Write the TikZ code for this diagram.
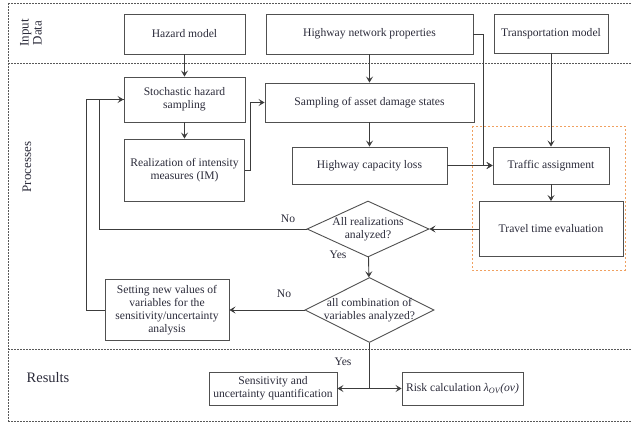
\documentclass[tikz,border=0pt]{standalone}
\usepackage{fontspec}
\setmainfont{Liberation Serif}
\usetikzlibrary{arrows.meta,shapes.geometric}
\definecolor{txt}{HTML}{2B2B3A}
\definecolor{ln}{HTML}{505050}
\definecolor{org}{HTML}{F0A060}
\begin{document}
\begin{tikzpicture}[x=1pt,y=-1pt,
 box/.style={draw=ln, line width=0.9pt, text=txt, align=center, font=\fontsize{11.6}{13}\selectfont, inner sep=1pt},
 dia/.style={diamond, draw=ln, line width=0.9pt, inner sep=0pt},
 diatext/.style={text=txt, align=center, font=\fontsize{11.6}{13}\selectfont, inner sep=0pt},
 conn/.style={draw=ln!75!black, line width=0.9pt, -{Stealth[length=6pt,width=7pt,inset=2.5pt]}},
 plainline/.style={draw=ln!75!black, line width=0.9pt},
 frameline/.style={draw=black!65, dash pattern=on 2pt off 1pt, line width=0.6pt},
 lbl/.style={text=txt, font=\fontsize{11.6}{13}\selectfont, inner sep=0pt},
 sec/.style={text=txt, align=center, inner sep=0pt}]

\useasboundingbox (0,0) rectangle (631,422);

% frame
\draw[frameline] (8,3) -- (631,3);
\draw[frameline] (8,63) -- (631,63);
\draw[frameline] (8,349) -- (631,349);
\draw[frameline] (8,421) -- (631,421);
\draw[frameline] (8,3) -- (8,421);

% section labels
\node[sec, rotate=90, font=\fontsize{13}{13}\selectfont] (lin) at (31,33) {Input\\Data};
\node[sec, rotate=90, font=\fontsize{13}{13}\selectfont] (lpr) at (27,167) {Processes};
\node[sec, font=\fontsize{14.5}{14.5}\selectfont] (lre) at (48,378) {Results};

% orange group
\draw[org, dash pattern=on 2pt off 2pt, line width=0.9pt] (472,126) rectangle (625,270);

% boxes
\node[box, minimum width=121pt, minimum height=40pt] (haz) at (184.5,34) {Hazard model};
\node[box, minimum width=207pt, minimum height=40pt] (hw) at (369.5,34) {Highway network properties};
\node[box, minimum width=114pt, minimum height=39pt] (tm) at (551,33.5) {Transportation model};
\node[box, minimum width=121pt, minimum height=45pt] (stoch) at (184.5,99.5) {Stochastic hazard\\sampling};
\node[box, minimum width=209pt, minimum height=39pt] (asset) at (369.5,102.5) {Sampling of asset damage states};
\node[box, minimum width=120pt, minimum height=62pt] (realiz) at (184.5,170) {Realization of intensity\\measures (IM)};
\node[box, minimum width=155pt, minimum height=37pt] (cap) at (369.5,165.5) {Highway capacity loss};
\node[box, minimum width=116pt, minimum height=37pt] (traffic) at (551,165.5) {Traffic assignment};
\node[box, minimum width=144pt, minimum height=55pt] (travel) at (551,229) {Travel time evaluation};
\node[dia, minimum width=122pt, minimum height=56pt] (d1) at (368,229) {};
\node[diatext] (d1t) at (d1.center) {All realizations\\analyzed?};
\node[dia, minimum width=129pt, minimum height=65pt] (d2) at (369.5,310) {};
\node[diatext] (d2t) at (d2.center) {all combination of\\variables analyzed?};
\node[box, minimum width=124pt, minimum height=61pt] (set) at (167,310) {Setting new values of\\variables for the\\sensitivity/uncertainty\\analysis};
\node[box, minimum width=128pt, minimum height=33pt] (sens) at (273,388.5) {Sensitivity and\\uncertainty quantification};
\node[box, minimum width=121pt, minimum height=33pt] (risk) at (462.5,388.5) {Risk calculation {\itshape λ\textsubscript{OV}(ov)}};

% connectors
\draw[conn] (haz) -- (stoch);
\draw[conn] (hw) -- (asset);
\draw[conn] (hw.east) -- ++(10,0) |- (traffic.west);
\draw[conn] (tm) -- (traffic);
\draw[conn] (stoch) -- (realiz);
\draw[conn] (realiz.east) -- ++(5,0) |- (asset.west);
\draw[conn] (asset) -- (cap);
\draw[conn] (cap) -- (traffic);
\draw[conn] (traffic) -- (travel);
\draw[conn] (travel) -- (d1);
\draw[plainline] (set.west) -- ++(-18,0) |- (stoch.west);
\draw[conn] (d1.west) -- ++(-207,0) |- (stoch.west);
\draw[conn] (d1) -- (d2);
\draw[conn] (d2) -- (set);
\coordinate (j) at (d2.south |- sens.east);
\draw[plainline] (d2.south) -- (j);
\draw[conn] (j) -- (sens.east);
\draw[conn] (j) -- (risk.west);

% labels
\node[lbl] (no1) at (288,219) {No};
\node[lbl] (yes1) at (338,255) {Yes};
\node[lbl] (no2) at (284,294) {No};
\node[lbl] (yes2) at (343,362) {Yes};
\end{tikzpicture}
\end{document}
